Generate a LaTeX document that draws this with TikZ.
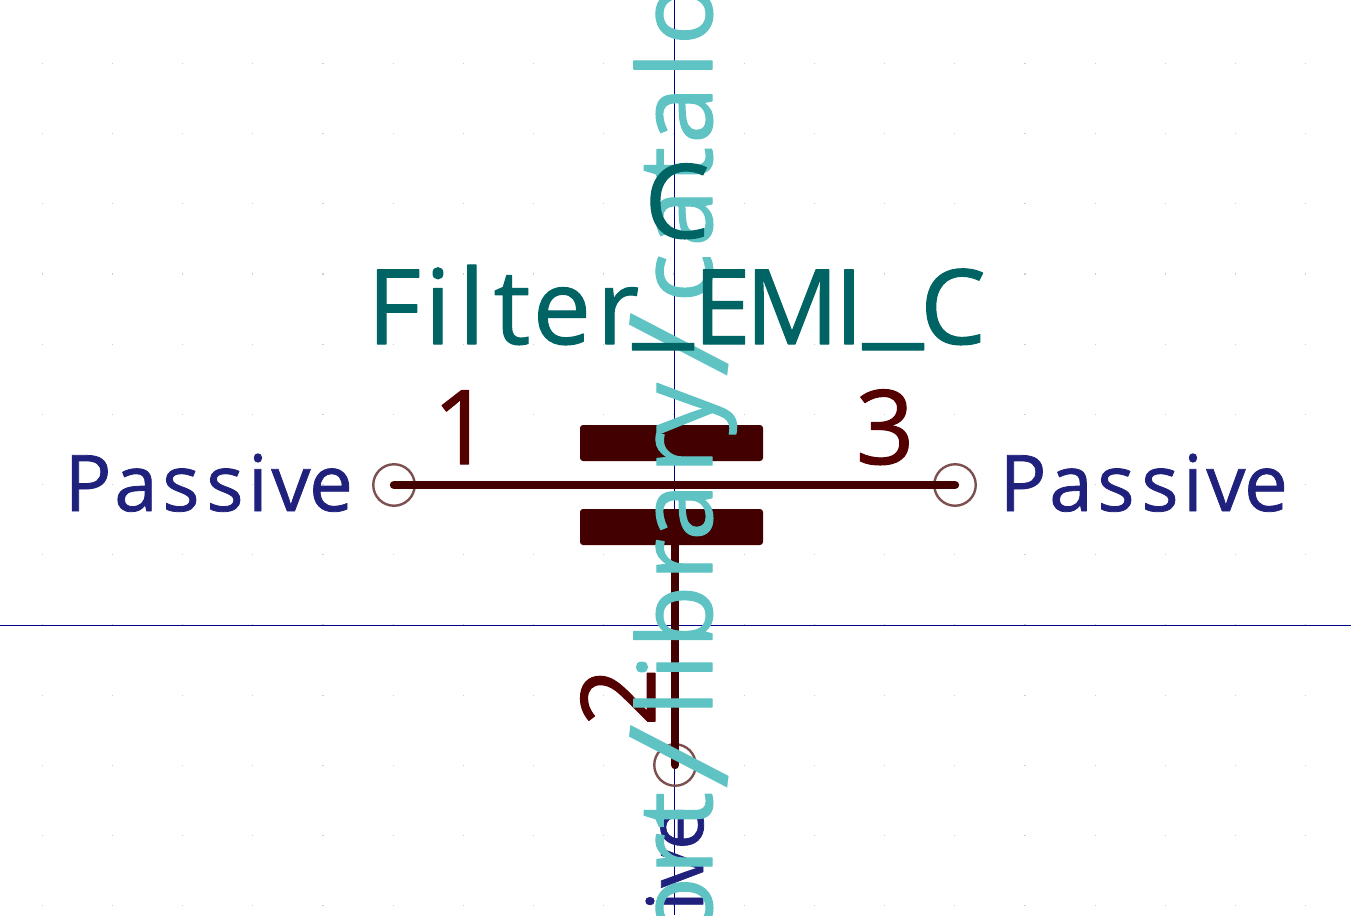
\documentclass[tikz,border=0pt]{standalone}
\usepackage{fontspec}
\setmainfont{Open Sans}[FakeBold=1]
\newfontfamily\slashfont{Open Sans}
\definecolor{kval}{RGB}{0,100,100}
\definecolor{kbody}{RGB}{66,0,0}
\definecolor{knum}{RGB}{85,0,0}
\definecolor{kpname}{RGB}{32,32,125}
\definecolor{kpin}{RGB}{125,80,80}
\definecolor{kcyan}{RGB}{95,195,195}
\definecolor{kaxis}{RGB}{0,0,132}
\definecolor{kgrid}{RGB}{205,205,205}
\newcommand{\kf}[1]{\fontsize{#1}{#1}\selectfont}
% one glyph, centred at a given distance from the start of the text
\newcommand{\gl}[2]{\rlap{\hspace*{#1pt}\makebox[0pt][c]{#2}}}
\newcommand{\slashglyph}{\raisebox{-19pt}{\rotatebox[origin=c]{-7}{\scalebox{1.41}{\slashfont /}}}}
\newcommand{\barglyph}{\raisebox{10pt}{\scalebox{1.3}[1]{\_}}}
\newcommand{\passivetext}{\gl{20}{P}\gl{68}{a}\gl{113}{s}\gl{157}{s}\gl{190}{i}\gl{223}{v}\gl{263}{e}\hspace*{282pt}}
\tikzset{
  x=1pt,y=-1pt,
  txt/.style={inner sep=0pt,outer sep=0pt,anchor=base west},
  numtext/.style={inner sep=0pt,outer sep=0pt,anchor=base,text=knum,font=\kf{103}},
  valtext/.style={txt,text=kval,font=\kf{104}},
  pname/.style={txt,text=kpname,font=\kf{78}},
  cyantext/.style={txt,text=kcyan,font=\kf{103}},
  plate/.style={fill=kbody,draw=none,rounded corners=3pt,minimum width=183pt,minimum height=36pt,inner sep=0pt},
  pincirc/.style={circle,draw=kpin,line width=2.4pt,minimum size=41.5pt,inner sep=0pt,fill=none},
  wire/.style={draw=kbody,line width=8.4pt,line cap=round},
  axis/.style={draw=kaxis,line width=0.8pt},
}
\begin{document}
\begin{tikzpicture}[line join=round,line cap=round]
\useasboundingbox (0,0) rectangle (1351,915);
\fill[white] (0,0) rectangle (1351,915);
% grid
\foreach \i in {-9,...,9}{
  \foreach \j in {-8,...,4}{
    \fill[kgrid] ({674+70.2*\i-0.6},{625+70.2*\j-0.6}) rectangle ++(1.2,1.2);
  }
}
\begin{scope}
\clip (0,0) rectangle (1351,915);
% axes
\coordinate (axt) at (674.5,0);
\coordinate (axb) at (674.5,915);
\coordinate (axl) at (0,625.5);
\coordinate (axr) at (1351,625.5);
\draw[axis,line cap=butt] (axt) -- (axb);
\draw[axis,line cap=butt] (axl) -- (axr);
% pins
\node[pincirc] (p1) at (394,485) {};
\node[pincirc] (p3) at (955,485) {};
\node[pincirc] (p2) at (675,765) {};
% plates
\node[plate] (top) at (671.5,443) {};
\node[plate] (bot) at (671.5,527) {};
\coordinate (botw) at (675,527);
\draw[wire] (p1.center) -- (p3.center);
\draw[wire] (botw) -- (p2.center);
% pin names and numbers
\node[pname] (n1) at (68,511) {\passivetext};
\node[pname] (n3) at (1003,511) {\passivetext};
\node[pname,rotate=90] (n2) at (703,1091) {\passivetext};
\node[numtext] (d1) at (462,464) {1};
\node[numtext] (d3) at (885,464) {3};
\node[numtext,rotate=90] (d2) at (655,697) {2};
% cyan path
\node[cyantext,rotate=90] (path) at (712,1110) {\gl{25}{i}\gl{80}{m}\gl{145}{p}\gl{202}{o}\gl{256}{r}\gl{300}{t}\gl{353}{\slashglyph}\gl{407}{l}\gl{443}{i}\gl{493}{b}\gl{550}{r}\gl{598}{a}\gl{657}{r}\gl{701}{y}\gl{765}{\slashglyph}\gl{832}{c}\gl{892}{a}\gl{945}{t}\gl{995}{a}\gl{1045}{l}\gl{1096}{o}\gl{1150}{g}\hspace*{1175pt}};
% value and reference
\node[numtext,text=kval] (ref) at (677,238) {C};
\node[valtext] (val) at (372,344) {\gl{22}{F}\gl{66}{i}\gl{100}{l}\gl{140}{t}\gl{190}{e}\gl{246}{r}\gl{291}{\barglyph}\gl{350}{E}\gl{420}{M}\gl{477}{I}\gl{521}{\barglyph}\gl{581}{C}\hspace*{610pt}};
\end{scope}
\end{tikzpicture}
\end{document}
